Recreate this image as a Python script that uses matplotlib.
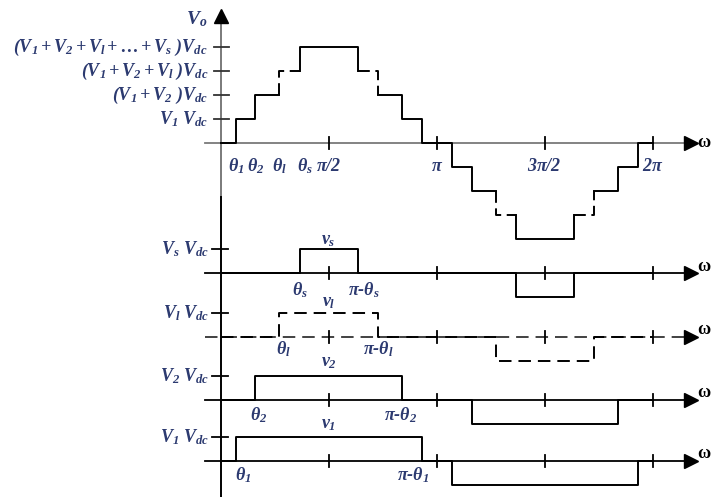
import numpy as np
import matplotlib
matplotlib.use("Agg")
import matplotlib.pyplot as plt

plt.rcParams["mathtext.fontset"] = "custom"
plt.rcParams["mathtext.it"] = "Liberation Serif:italic:bold"
plt.rcParams["mathtext.rm"] = "Liberation Serif:italic:bold"
plt.rcParams["mathtext.bf"] = "Liberation Serif:bold"
plt.rcParams["lines.scale_dashes"] = False

# switching angles (degrees) of the cells 1, 2, l, s and their dc levels
names = ["1", "2", "l", "s"]
theta = [12.5, 29.0, 49.0, 66.0]
heights = [1, 1, 1, 1]

level_labels = [r"$V_1\ V_{dc}$",
                r"$(V_1+V_2\ )V_{dc}$",
                r"$(V_1+V_2+V_l\ )V_{dc}$",
                r"$(V_1+V_2+V_l+\ldots+V_s\ )V_{dc}$"]
quarter = [90, 180, 270, 360]
quarter_labels = [r"$\pi/2$", r"$\pi$", r"$3\pi/2$", r"$2\pi$"]

# panels below the staircase, top to bottom
panel_cells = ["s", "l", "2", "1"]

TXT = "#2c3a70"
GRAY = "#7a7a7a"
FS = 13
X0, X1 = -13, 392          # extent of the horizontal axes
main_base = 14.75
panel_base = {"s": 9.32, "l": 6.68, "2": 4.04, "1": 1.51}


def pulse(a, h):
    x = [0, a, a, 180 - a, 180 - a, 180 + a, 180 + a, 360 - a, 360 - a, 360]
    y = [0, 0, h, h, 0, 0, -h, -h, 0, 0]
    return np.array(x, float), np.array(y, float)


def staircase(angles, hs):
    edges = sorted(set([0, 360] + [e for a in angles for e in (a, 180 - a, 180 + a, 360 - a)]))
    xs, ys = [], []
    for lo, hi in zip(edges[:-1], edges[1:]):
        t = (lo + hi) / 2
        v = 0
        for a, h in zip(angles, hs):
            if a < t < 180 - a:
                v += h
            elif 180 + a < t < 360 - a:
                v -= h
        xs += [lo, hi]
        ys += [v, v]
    return np.array(xs, float), np.array(ys, float)


def h_axis(ax, base, color="black", ls="-", wlabel_dy=0.3):
    ax.plot([X0, X1], [base, base], color=color, lw=1.3, ls=ls, zorder=1)
    ax.plot([X1], [base], marker=">", ms=10, color="black", mec="black", zorder=3)
    for q in quarter:
        ax.plot([q, q], [base - 0.25, base + 0.25], color="black", lw=1.3, zorder=2)
    ax.text(X1 + 5, base + wlabel_dy, "ω", color="black", fontsize=13,
            family="Liberation Serif", fontweight="bold", ha="left", va="center")


fig = plt.figure(figsize=(7.15, 4.97), dpi=100)
ax = fig.add_axes([0, 0, 1, 1])
ax.set_xlim(-183.9, 411.9)
ax.set_ylim(0, 20.708)
ax.axis("off")

# vertical axis
ax.plot([0, 0], [12.5, 20.0], color=GRAY, lw=1.4, zorder=1)
ax.plot([0, 0], [0, 12.5], color="black", lw=1.4, zorder=1)
ax.plot([0], [20.05], marker="^", ms=10, color="black", zorder=3)
ax.text(-11, 19.9, r"$V_o$", color=TXT, fontsize=FS + 1, ha="right", va="center")

# ---- staircase output voltage ----
h_axis(ax, main_base, color=GRAY, wlabel_dy=0)
cum = np.cumsum(heights)
for lev, lab in zip(cum, level_labels):
    ax.plot([-5.5, 7], [main_base + lev] * 2, color="#333333", lw=1.3)
    ax.text(-10.5, main_base + lev, lab, color=TXT, fontsize=FS, ha="right", va="center")

xs, ys = staircase(theta, heights)
lo_t, hi_t = theta[2], theta[3]
windows = [(lo_t, hi_t), (180 - hi_t, 180 - lo_t), (180 + lo_t, 180 + hi_t), (360 - hi_t, 360 - lo_t)]
ylo, yhi = cum[1], cum[2]


def is_dashed(i):
    xa, xb, ya, yb = xs[i], xs[i + 1], abs(ys[i]), abs(ys[i + 1])
    inwin = any(w0 - 1e-9 <= xa <= w1 + 1e-9 and w0 - 1e-9 <= xb <= w1 + 1e-9 for w0, w1 in windows)
    return inwin and ylo <= ya <= yhi and ylo <= yb <= yhi


groups = []
for i in range(len(xs) - 1):
    d = is_dashed(i)
    if groups and groups[-1][0] == d:
        groups[-1][1].append(i + 1)
    else:
        groups.append([d, [i, i + 1]])
for d, idx in groups:
    ax.plot(xs[idx], ys[idx] + main_base, color="black", lw=1.4,
            ls=(0, (8.5, 4)) if d else "-", zorder=2)

for t, n in zip(theta, names):
    dx = 4 if n == "s" else 0
    ax.text(t + dx, main_base - 0.95, r"$\theta_{%s}$" % n, color=TXT, fontsize=FS,
            ha="center", va="center")
for q, lab in zip(quarter, quarter_labels):
    ax.text(q, main_base - 0.95, lab, color=TXT, fontsize=FS, ha="center", va="center")

# ---- individual cell voltages ----
label_pos = {"s": (0, 0, 1.39, -0.7, 5), "l": (3, 0, 1.44, -0.5, 0),
             "2": (3, 0, 1.58, -0.63, -1), "1": (6, 0, 1.53, -0.6, -7.5)}
for n in panel_cells:
    k = names.index(n)
    a, h = theta[k], heights[k]
    base = panel_base[n]
    dashed = n == "l"
    if dashed:
        h_axis(ax, base, color="#333333", ls=(0, (9, 5)), wlabel_dy=0.3)
    else:
        h_axis(ax, base, color="black", wlabel_dy=0.3)
    ax.plot([-7.5, 6], [base + h] * 2, color="black", lw=1.3)
    ax.text(-9.7, base + h, r"$V_{%s}\ V_{dc}$" % n, color=TXT, fontsize=FS,
            ha="right", va="center")
    px, py = pulse(a, h)
    ax.plot(px, py + base, color="black", lw=1.4, ls=(0, (9, 5)) if dashed else "-", zorder=2)
    dxa, _, vy, ly, dxb = label_pos[n]
    ax.text(90, base + vy, r"$v_{%s}$" % n, color=TXT, fontsize=FS, ha="center", va="center")
    ax.text(a + dxa, base + ly, r"$\theta_{%s}$" % n, color=TXT, fontsize=FS,
            ha="center", va="center")
    ax.text(180 - a + dxb, base + ly, r"$\pi\text{-}\theta_{%s}$" % n, color=TXT, fontsize=FS,
            ha="center", va="center")

fig.savefig("out.png", dpi=100)
